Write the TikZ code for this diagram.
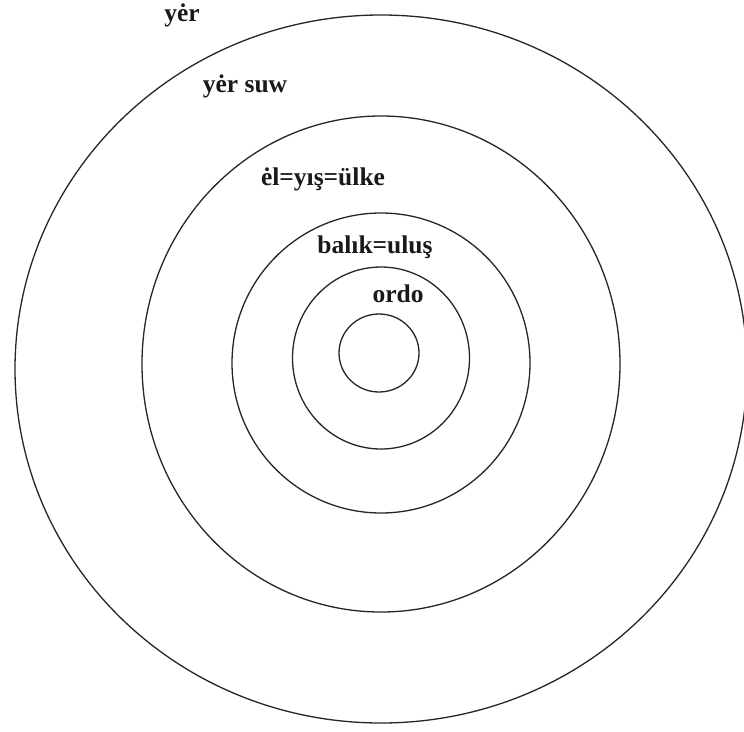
\documentclass[tikz,border=0pt]{standalone}
\usepackage{fontspec}
\setmainfont{Liberation Serif}
\usepackage{tikz}

\begin{document}
\begin{tikzpicture}[x=1pt, y=-1pt, line width=1.3pt,
    ring/.style={draw, black!85},
    label/.style={anchor=base, font=\fontsize{25.5}{30}\selectfont\bfseries, text=black!90, inner sep=0pt}]

    % 1. Frame of the picture
    \clip (0,0) rectangle (744,731);
    \fill[white] (0,0) rectangle (744,731);

    % 2. Centres of the rings
    \coordinate (C1) at (379,353);
    \coordinate (C2) at (381,358);
    \coordinate (C3) at (381,363);
    \coordinate (C4) at (381,364);
    \coordinate (C5) at (381,369);

    % 3. Draw the rings, from the inside out
    \draw[ring] (C1) ellipse [x radius=40, y radius=39];
    \draw[ring] (C2) ellipse [x radius=88.5, y radius=91];
    \draw[ring] (C3) ellipse [x radius=149, y radius=150];
    \draw[ring] (C4) ellipse [x radius=239, y radius=248];
    \draw[ring] (C5) ellipse [x radius=366, y radius=354];

    % 4. Names of the rings
    \node[label] (yer)   at (182,21)  {yėr};
    \node[label] (suw)   at (245,92)  {yėr suw};
    \node[label] (el)    at (323,185) {ėl=yış=ülke};
    \node[label] (balik) at (375,253) {balık=uluş};
    \node[label] (ordo)  at (398,302) {ordo};

\end{tikzpicture}
\end{document}
